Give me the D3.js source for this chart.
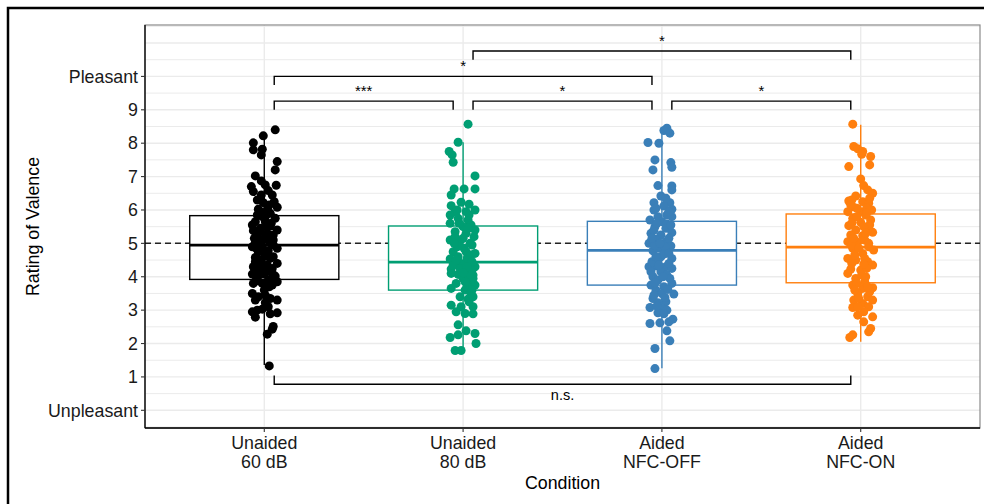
<!DOCTYPE html>
<html><head><meta charset="utf-8">
<script src="https://cdn.jsdelivr.net/npm/d3@7"></script>
<style>body{margin:0;background:#fff}svg{display:block}text{font-family:"Liberation Sans",Arial,sans-serif}</style>
</head><body><svg id="c" width="984" height="504"></svg>
<script>
const categories = ["Unaided\n60 dB", "Unaided\n80 dB", "Aided\nNFC-OFF", "Aided\nNFC-ON"];
const colors = ["#000000", "#009E73", "#3A7FB8", "#FF7F0E"];
const yTickValues = [0,1,2,3,4,5,6,7,8,9,10];
const yTickLabels = ["Unpleasant","1","2","3","4","5","6","7","8","9","Pleasant"];
const q1 = [3.92, 3.60, 3.75, 3.82];
const median = [4.95, 4.44, 4.79, 4.89];
const q3 = [5.83, 5.52, 5.66, 5.88];
const whiskerLow = [1.36, 1.70, 1.26, 2.05];
const whiskerHigh = [8.22, 8.03, 8.45, 8.55];
const refValue = 5;
// jittered points: [x-jitter (category units), value]
const pts60 = [[0.055,8.40],[-0.005,8.22],[-0.055,8.01],[-0.055,7.80],[-0.01,7.82],[-0.015,7.65],[0.065,7.45],[0.055,7.20],[-0.045,7.02],[-0.015,6.87],[-0.065,6.70],[0.06,6.74],[0.005,6.75],[-0.055,6.55],[0.02,6.58],[0.04,6.45],[-0.035,6.30],[-0.005,6.22],[0.05,6.25],[0.065,6.08],[-0.03,6.02],[0.015,6.00],[-0.035,5.85],[0.03,5.90],[-0.01,5.80],[0.055,5.75],[-0.045,5.65],[0.005,5.65],[-0.06,5.55],[0.03,5.52],[-0.02,5.45],[0.065,5.40],[-0.055,5.38],[0.015,5.30],[0.045,5.25],[-0.035,5.20],[-0.005,5.12],[-0.045,5.02],[0.03,5.02],[-0.06,4.90],[-0.01,4.92],[0.065,4.85],[-0.03,4.75],[0.02,4.78],[0.005,4.62],[-0.045,4.58],[0.045,4.60],[-0.015,4.50],[0.065,4.40],[0.015,4.35],[-0.055,4.30],[0.04,4.25],[-0.03,4.18],[-0.06,4.08],[-0.005,4.08],[0.055,4.02],[-0.035,3.95],[0.02,3.90],[-0.055,3.80],[-0.01,3.80],[0.065,3.85],[0.04,3.75],[-0.06,3.50],[0.005,3.45],[0.065,3.30],[-0.045,3.30],[0.03,3.35],[0.005,3.22],[-0.01,3.03],[-0.06,2.95],[-0.035,3.00],[0.065,2.92],[0.03,2.89],[-0.045,2.79],[0.045,2.51],[0.04,2.43],[0.015,2.28],[0.025,1.33],[-0.02,5.95],[0.035,5.60],[-0.025,5.05],[0.045,4.95],[-0.02,4.40],[0.04,4.10],[-0.045,4.45],[0.01,5.50],[-0.015,6.45],[0.025,6.15],[-0.04,4.85],[0.0,4.70],[0.03,4.55],[-0.025,4.25],[0.01,4.15],[-0.04,3.88],[0.025,3.70],[-0.02,5.35],[0.045,5.10],[0.01,5.85],[-0.05,5.15],[0.02,5.20],[-0.01,4.32],[0.05,3.95],[0.0,3.60],[-0.03,3.40],[0.02,3.10],[-0.04,4.00]];
const pts80 = [[0.025,8.57],[-0.025,8.03],[-0.07,7.75],[-0.055,7.65],[-0.05,7.43],[0.06,7.02],[-0.045,6.63],[0.005,6.63],[0.06,6.63],[-0.06,6.45],[-0.01,6.23],[0.03,6.17],[0.06,6.00],[-0.06,6.13],[-0.04,5.95],[-0.065,5.85],[-0.025,5.75],[0.025,5.70],[0.04,5.55],[-0.065,5.60],[0.0,5.50],[0.06,5.40],[-0.04,5.35],[0.015,5.30],[-0.065,5.10],[-0.015,5.07],[0.035,5.00],[0.005,4.85],[0.06,4.70],[-0.05,4.75],[-0.025,4.60],[-0.065,4.53],[0.035,4.45],[-0.01,4.40],[0.06,4.30],[-0.06,4.23],[0.015,4.15],[-0.025,4.07],[0.05,4.05],[-0.06,4.10],[0.0,3.95],[0.035,3.87],[-0.035,3.80],[0.06,3.75],[-0.06,3.65],[0.01,3.60],[0.04,3.50],[-0.015,3.40],[0.025,3.33],[-0.06,3.15],[-0.01,3.10],[0.05,3.10],[-0.035,2.95],[0.01,2.90],[0.05,2.89],[-0.025,2.56],[0.015,2.38],[0.06,2.30],[-0.065,2.18],[-0.025,2.26],[0.065,2.00],[-0.04,1.79],[-0.01,1.79],[0.045,4.95],[0.02,4.55],[-0.04,5.20],[0.045,4.20],[0.02,3.70],[0.05,3.95],[-0.03,4.90],[0.03,5.85],[-0.05,4.35],[0.015,4.75],[-0.015,4.25],[0.03,4.00],[0.04,4.65],[0.01,3.85],[0.045,3.60],[-0.02,5.60],[0.0,5.15],[0.025,5.45],[-0.045,5.00],[0.03,3.25],[0.045,4.45],[0.02,4.30],[-0.03,6.00],[0.0,4.12],[0.05,3.40],[-0.035,4.50],[0.015,5.95],[0.055,5.20]];
const ptsOff = [[0.025,8.45],[0.01,8.38],[0.04,8.30],[-0.07,8.02],[-0.015,8.00],[-0.035,7.50],[0.045,7.42],[0.05,7.28],[-0.045,7.20],[-0.02,6.73],[0.05,6.72],[0.05,6.60],[-0.005,6.42],[-0.04,6.22],[0.04,6.22],[0.01,6.12],[-0.04,6.00],[0.05,6.02],[0.025,5.85],[0.05,5.80],[-0.02,5.80],[-0.06,5.70],[0.0,5.65],[0.025,5.58],[-0.035,5.50],[0.05,5.32],[-0.055,5.30],[-0.005,5.25],[-0.03,5.12],[0.02,5.05],[-0.065,5.00],[0.045,4.92],[-0.015,4.85],[-0.045,4.78],[0.025,4.75],[-0.005,4.60],[0.05,4.55],[-0.065,4.30],[-0.03,4.32],[0.02,4.30],[0.05,4.25],[-0.005,4.15],[0.025,4.05],[-0.045,4.00],[-0.02,3.90],[0.05,3.80],[-0.055,3.75],[0.01,3.70],[-0.03,3.60],[0.06,3.48],[0.0,3.50],[-0.045,3.35],[0.02,3.25],[-0.02,3.22],[-0.06,3.08],[0.0,3.05],[0.025,3.00],[-0.02,2.92],[0.01,2.89],[0.055,2.73],[0.035,2.65],[-0.06,2.60],[-0.01,2.62],[0.025,2.38],[0.04,2.08],[-0.035,1.85],[-0.035,1.25],[-0.04,5.40],[0.035,5.15],[-0.02,4.45],[0.04,3.95],[-0.035,4.95],[0.015,4.90],[-0.05,4.45],[0.035,5.95],[-0.04,3.45],[-0.025,5.60],[0.02,5.45],[-0.05,5.15],[0.01,4.68],[-0.03,4.60],[0.035,4.40],[-0.015,4.35],[0.005,4.00],[-0.035,3.82],[0.03,3.62],[-0.01,5.00],[0.035,4.70],[-0.055,4.15],[0.015,3.38],[-0.025,3.12],[0.02,6.35],[-0.03,6.05],[0.045,5.55]];
const ptsOn = [[-0.04,8.57],[-0.035,7.90],[-0.015,7.83],[0.01,7.75],[0.005,7.67],[0.05,7.60],[-0.06,7.30],[0.045,7.35],[0.0,6.93],[0.015,6.73],[0.035,6.60],[0.06,6.50],[-0.025,6.42],[-0.06,6.27],[0.01,6.25],[0.04,6.20],[-0.04,6.10],[0.055,6.00],[-0.065,5.95],[0.0,5.95],[0.025,5.85],[-0.04,5.75],[0.05,5.70],[0.0,5.63],[-0.06,5.53],[0.035,5.45],[-0.025,5.40],[0.06,5.33],[-0.05,5.25],[0.01,5.23],[-0.065,5.05],[-0.015,5.03],[0.04,4.90],[-0.04,4.85],[0.065,4.80],[0.01,4.70],[-0.065,4.55],[-0.025,4.50],[0.035,4.45],[0.06,4.35],[-0.05,4.23],[0.0,4.20],[0.025,4.00],[-0.025,3.95],[-0.065,4.10],[-0.04,3.75],[0.01,3.65],[0.06,3.67],[-0.015,3.50],[0.035,3.40],[-0.035,3.30],[0.06,3.30],[0.01,3.20],[-0.04,3.08],[0.04,3.10],[0.015,2.95],[-0.015,2.85],[0.06,2.80],[0.015,2.65],[0.05,2.45],[0.04,2.35],[-0.04,2.26],[-0.055,2.18],[-0.045,6.30],[0.03,6.05],[-0.02,5.80],[0.045,5.55],[-0.045,5.60],[0.02,5.10],[-0.045,4.95],[0.03,4.25],[-0.03,4.65],[0.02,3.85],[0.045,3.55],[-0.01,3.35],[0.03,5.90],[-0.02,6.05],[0.015,5.50],[-0.035,5.15],[0.04,5.00],[-0.01,4.85],[0.02,4.55],[-0.045,4.40],[0.005,4.05],[-0.02,3.80],[0.035,3.70],[-0.03,3.60],[0.025,5.30],[-0.05,6.15],[0.045,6.35],[0.015,4.38],[-0.015,3.10]];
const pointSets = [pts60, pts80, ptsOff, ptsOn];
// significance brackets
const bracketFrom = [0, 1, 2, 0, 1, 0];
const bracketTo   = [1, 2, 3, 2, 3, 3];
const bracketY    = [9.26, 9.26, 9.26, 10.0, 10.76, 0.78];
const bracketLabel= ["***", "*", "*", "*", "*", "n.s."];

const svg = d3.select("#c");
const L = 145, R = 980, T = 25, B = 428;
const x = d3.scaleLinear().domain([0.4, 4.6]).range([L, R]);
const y = d3.scaleLinear().domain([-0.53, 11.54]).range([B, T]);

svg.append("rect").attr("x",8).attr("y",8).attr("width",990).attr("height",510)
  .attr("fill","none").attr("stroke","#000").attr("stroke-width",2.5);

const g = svg.append("g");
const minorVals = d3.range(-0.5, 11.51, 0.5);
g.selectAll("line.gy").data(minorVals).join("line")
  .attr("x1",L).attr("x2",R).attr("y1",d=>y(d)).attr("y2",d=>y(d))
  .attr("stroke","#ebebeb").attr("stroke-width",d=>Number.isInteger(d)?1.4:1);
g.selectAll("line.gx").data(categories).join("line")
  .attr("x1",(d,i)=>x(i+1)).attr("x2",(d,i)=>x(i+1)).attr("y1",T).attr("y2",B)
  .attr("stroke","#ebebeb").attr("stroke-width",1.4);

svg.append("rect").attr("x",L).attr("y",T).attr("width",R-L).attr("height",B-T)
  .attr("fill","none").attr("stroke","#8a8a8a").attr("stroke-width",1.2);

svg.append("line").attr("x1",L).attr("x2",R).attr("y1",y(refValue)).attr("y2",y(refValue))
  .attr("stroke","#222").attr("stroke-width",1.5).attr("stroke-dasharray","6,4");

const bw = 0.375;
categories.forEach((c,i)=>{
  const bg = svg.append("g").attr("stroke",colors[i]).attr("fill","none");
  bg.append("line").attr("x1",x(i+1)).attr("x2",x(i+1)).attr("y1",y(q3[i])).attr("y2",y(whiskerHigh[i])).attr("stroke-width",1.4);
  bg.append("line").attr("x1",x(i+1)).attr("x2",x(i+1)).attr("y1",y(q1[i])).attr("y2",y(whiskerLow[i])).attr("stroke-width",1.4);
  bg.append("rect").attr("x",x(i+1-bw)).attr("width",x(i+1+bw)-x(i+1-bw))
    .attr("y",y(q3[i])).attr("height",y(q1[i])-y(q3[i])).attr("fill","#fff").attr("stroke-width",1.4);
  bg.append("line").attr("x1",x(i+1-bw)).attr("x2",x(i+1+bw)).attr("y1",y(median[i])).attr("y2",y(median[i])).attr("stroke-width",2.7);
});

pointSets.forEach((pts,i)=>{
  svg.append("g").selectAll("circle").data(pts).join("circle")
    .attr("cx",d=>x(i+1+d[0])).attr("cy",d=>y(d[1])).attr("r",4.5).attr("fill",colors[i]);
});

const off = 0.05;
bracketFrom.forEach((f,k)=>{
  const t = bracketTo[k], yv = bracketY[k];
  const dir = yv < 5 ? 1 : -1;
  const tip = 0.26;
  const x1 = x(f+1+off), x2 = x(t+1-off);
  const y0 = y(yv), yt = y(yv + dir*tip);
  svg.append("path").attr("d",`M${x1},${yt}L${x1},${y0}L${x2},${y0}L${x2},${yt}`)
    .attr("fill","none").attr("stroke","#000").attr("stroke-width",1.4);
  const lbl = svg.append("text").attr("x",(x1+x2)/2).attr("text-anchor","middle").text(bracketLabel[k]);
  if (dir === -1) lbl.attr("y", y0-5).attr("font-size",15);
  else lbl.attr("y", y0+16).attr("font-size",14.5);
});

svg.append("line").attr("x1",L).attr("x2",L).attr("y1",T).attr("y2",B).attr("stroke","#000").attr("stroke-width",1.3);
svg.append("line").attr("x1",L).attr("x2",R).attr("y1",B).attr("y2",B).attr("stroke","#000").attr("stroke-width",1.3);
const ya = svg.append("g");
yTickValues.forEach((v,i)=>{
  ya.append("line").attr("x1",L-4).attr("x2",L).attr("y1",y(v)).attr("y2",y(v)).attr("stroke","#333").attr("stroke-width",1.1);
  ya.append("text").attr("x",L-7).attr("y",y(v)).attr("dy","0.35em").attr("text-anchor","end")
    .attr("font-size",17.8).attr("fill","#1a1a1a").text(yTickLabels[i]);
});
categories.forEach((c,i)=>{
  svg.append("line").attr("x1",x(i+1)).attr("x2",x(i+1)).attr("y1",B).attr("y2",B+4).attr("stroke","#333").attr("stroke-width",1.1);
  const parts = c.split("\n");
  parts.forEach((p,j)=>{
    svg.append("text").attr("x",x(i+1)).attr("y",B+21+j*19).attr("text-anchor","middle")
      .attr("font-size",17.8).attr("fill","#1a1a1a").text(p);
  });
});
svg.append("text").attr("x",(L+R)/2).attr("y",489).attr("text-anchor","middle").attr("font-size",17.8).text("Condition");
svg.append("text").attr("transform",`translate(39,${(T+B)/2}) rotate(-90)`).attr("text-anchor","middle").attr("font-size",17.8).text("Rating of Valence");
</script></body></html>
